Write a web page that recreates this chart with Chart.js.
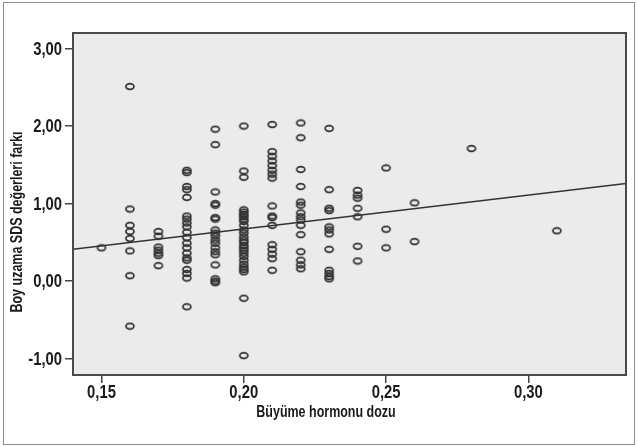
<!DOCTYPE html>
<html>
<head>
<meta charset="utf-8">
<script src="https://cdn.jsdelivr.net/npm/chart.js@4.4.1/dist/chart.umd.min.js"></script>
<style>
  html, body { margin: 0; padding: 0; background: #fff; }
  #wrap { position: relative; width: 637px; height: 446px; }
  #frame { position: absolute; left: 3px; top: 2px; width: 630px; height: 441px; border: 1px solid #8c8c8c; pointer-events: none; }
</style>
</head>
<body>
<div id="wrap">
  <canvas id="doseChart" width="637" height="446"></canvas>
  <div id="frame"></div>
</div>
<script>
// Dose levels (x) and the SDS differences read at each level (y)
const doses = [0.15, 0.16, 0.17, 0.18, 0.19, 0.20, 0.21, 0.22, 0.23, 0.24, 0.25, 0.26, 0.28, 0.31];
const sdsByDose = [
  [0.43],
  [2.51, 0.93, 0.72, 0.64, 0.55, 0.39, 0.07, -0.58],
  [0.64, 0.58, 0.44, 0.40, 0.36, 0.33, 0.20],
  [1.43, 1.40, 1.22, 1.18, 1.08, 0.84, 0.80, 0.75, 0.70, 0.63, 0.56, 0.49, 0.43, 0.36, 0.30, 0.27, 0.15, 0.10, 0.04, -0.33],
  [1.96, 1.76, 1.15, 1.00, 0.98, 0.82, 0.80, 0.66, 0.62, 0.58, 0.53, 0.49, 0.43, 0.38, 0.34, 0.21, 0.03, 0.00, -0.02],
  [2.00, 1.42, 1.34, 0.92, 0.89, 0.86, 0.83, 0.80, 0.77, 0.72, 0.66, 0.62, 0.57, 0.53, 0.50, 0.46, 0.43, 0.40, 0.36, 0.32, 0.27, 0.22, 0.18, 0.15, 0.12, -0.22, -0.96],
  [2.02, 1.67, 1.61, 1.55, 1.49, 1.43, 1.38, 1.33, 0.97, 0.84, 0.82, 0.72, 0.47, 0.41, 0.35, 0.29, 0.14],
  [2.04, 1.85, 1.44, 1.22, 1.02, 0.98, 0.88, 0.83, 0.79, 0.72, 0.60, 0.38, 0.27, 0.21, 0.16],
  [1.97, 1.18, 0.94, 0.91, 0.70, 0.66, 0.61, 0.41, 0.14, 0.10, 0.06, 0.03],
  [1.17, 1.11, 1.07, 0.94, 0.83, 0.45, 0.26],
  [1.46, 0.67, 0.43],
  [1.01, 0.51],
  [1.71],
  [0.65]
];

// Fit line end points
const fitX = [0.14, 0.3343];
const fitY = [0.413, 1.261];

// Axis ticks
const xTicks = [0.15, 0.20, 0.25, 0.30];
const yTicks = [-1, 0, 1, 2, 3];

const FONT = "'Liberation Sans', Arial, sans-serif";
const SQUEEZE = 0.78; // imitate the condensed face of the original

// open ellipse marker
function makeMarker() {
  const c = document.createElement("canvas");
  c.width = 12; c.height = 9;
  const g = c.getContext("2d");
  g.strokeStyle = "#303030";
  g.lineWidth = 1.7;
  g.beginPath();
  g.ellipse(6, 4.5, 4, 2.8, 0, 0, Math.PI * 2);
  g.stroke();
  return c;
}

const points = [];
doses.forEach((d, i) => {
  sdsByDose[i].forEach(v => points.push({ x: d, y: v }));
});

const fitPoints = fitX.map((x, i) => ({ x: x, y: fitY[i] }));

const comma = v => Number(v).toFixed(2).replace(".", ",");

function narrowText(ctx, text, x, y, align) {
  ctx.save();
  ctx.translate(x, y);
  ctx.scale(SQUEEZE, 1);
  ctx.textAlign = align;
  ctx.fillText(text, 0, 0);
  ctx.restore();
}

// plot background, frame, tick labels and axis titles
const plotDecor = {
  id: "plotDecor",
  beforeDraw(chart) {
    const { ctx, chartArea: a } = chart;
    ctx.save();
    ctx.fillStyle = "#ebebeb";
    ctx.fillRect(a.left, a.top, a.right - a.left, a.bottom - a.top);
    ctx.restore();
  },
  afterDraw(chart) {
    const { ctx, chartArea: a, scales } = chart;
    ctx.save();
    ctx.strokeStyle = "#4a4a4a";
    ctx.lineWidth = 2;
    ctx.strokeRect(a.left, a.top, a.right - a.left, a.bottom - a.top);

    ctx.fillStyle = "#1a1a1a";
    ctx.textBaseline = "middle";
    ctx.font = "bold 19px " + FONT;
    xTicks.forEach(v => narrowText(ctx, comma(v), scales.x.getPixelForValue(v), 393, "center"));
    yTicks.forEach(v => narrowText(ctx, comma(v), 62, scales.y.getPixelForValue(v) + 1, "right"));

    ctx.font = "bold 16px " + FONT;
    narrowText(ctx, "Büyüme hormonu dozu", 326, 413, "center");

    ctx.translate(17.5, 222);
    ctx.rotate(-Math.PI / 2);
    narrowText(ctx, "Boy uzama SDS değerleri farkı", 0, 0, "center");
    ctx.restore();
  }
};

const ctx = document.getElementById("doseChart");
const doseChart = new Chart(ctx, {
  data: {
    datasets: [
      {
        type: "scatter",
        label: "SDS",
        data: points,
        pointStyle: makeMarker(),
        pointRadius: 4,
        pointHoverRadius: 4
      },
      {
        type: "line",
        label: "Fit",
        data: fitPoints,
        borderColor: "#333",
        borderWidth: 1.5,
        pointRadius: 0,
        fill: false
      }
    ]
  },
  options: {
    responsive: false,
    animation: false,
    layout: { padding: { top: 33, right: 11, left: 0, bottom: 0 } },
    plugins: { legend: { display: false }, tooltip: { enabled: false } },
    scales: {
      x: {
        type: "linear",
        min: fitX[0],
        max: fitX[1],
        afterBuildTicks: s => { s.ticks = xTicks.map(v => ({ value: v })); },
        afterFit: s => { s.height = 71; },
        border: { display: false },
        grid: { drawOnChartArea: false, tickLength: 8, color: "#444", lineWidth: 1.5 },
        ticks: {
          callback: v => comma(v),
          color: "rgba(0,0,0,0)",
          maxRotation: 0,
          font: { family: FONT, size: 18, weight: "bold" }
        }
      },
      y: {
        type: "linear",
        min: -1.21,
        max: 3.2,
        afterBuildTicks: s => { s.ticks = yTicks.map(v => ({ value: v })); },
        afterFit: s => { s.width = 73; },
        border: { display: false },
        grid: { drawOnChartArea: false, tickLength: 8, color: "#444", lineWidth: 1.5 },
        ticks: {
          callback: v => comma(v),
          color: "rgba(0,0,0,0)",
          font: { family: FONT, size: 18, weight: "bold" }
        }
      }
    }
  },
  plugins: [plotDecor]
});
</script>
</body>
</html>
